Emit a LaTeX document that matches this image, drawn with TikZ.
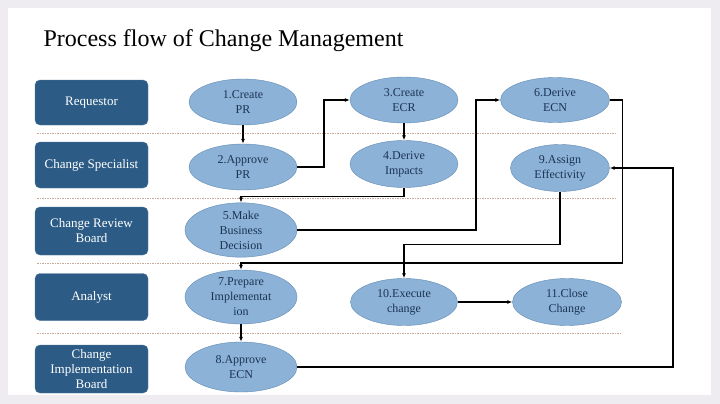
\documentclass[tikz,border=0pt]{standalone}
\usepackage{fontspec}
\setmainfont{Liberation Serif}
\usetikzlibrary{shapes.geometric,arrows.meta}
\definecolor{lanefill}{RGB}{44,92,134}
\definecolor{stepfill}{RGB}{140,178,215}
\definecolor{stepline}{RGB}{96,138,180}
\definecolor{steptext}{RGB}{28,52,84}
\definecolor{sepline}{RGB}{200,170,155}
\definecolor{framefill}{RGB}{238,236,241}
\begin{document}
\begin{tikzpicture}[x=1pt,y=-1pt,
  lane/.style={draw=lanefill!85!white, fill=lanefill, rounded corners=5pt, minimum width=113pt, text=white, align=center, inner sep=1pt, font=\fontsize{13}{15}\selectfont},
  stepnode/.style={ellipse, draw=stepline, fill=stepfill, text=steptext, align=center, inner sep=0pt, font=\fontsize{12}{15}\selectfont},
  flow/.style={-{Latex[length=5pt,width=4pt]}, line width=1.5pt},
  lanesep/.style={sepline, dash pattern=on 1.5pt off 1pt, line width=0.9pt}]
\fill[framefill] (0,0) rectangle (720,404);
\fill[white] (8,8) rectangle (711,395);
\node[anchor=base west, font=\fontsize{24}{28}\selectfont] (title) at (40,47) {Process flow of Change Management};
\node[lane, minimum height=45pt] (requestor) at (91.5,102.5) {Requestor};
\node[lane, minimum height=46pt] (specialist) at (91.5,165) {Change Specialist};
\node[lane, minimum height=48pt] (review) at (91.5,231) {Change Review\\Board};
\node[lane, minimum height=47pt] (analyst) at (91.5,297) {Analyst};
\node[lane, minimum height=48pt] (impl) at (91.5,369) {Change\\Implementation\\Board};
\draw[lanesep] (37,133) -- (615,133);
\draw[lanesep] (37,198) -- (615,198);
\draw[lanesep] (37,263) -- (615,263);
\draw[lanesep] (37,333) -- (622,333);
\node[stepnode, minimum width=108pt, minimum height=46pt] (s1) at (243,102) {1.Create\\PR};
\node[stepnode, minimum width=108pt, minimum height=46pt] (s2) at (243,167) {2.Approve\\PR};
\node[stepnode, minimum width=108pt, minimum height=46pt] (s3) at (404,100) {3.Create\\ECR};
\node[stepnode, minimum width=108pt, minimum height=47pt] (s4) at (404,164) {4.Derive\\Impacts};
\node[stepnode, minimum width=112pt, minimum height=48pt] (s5) at (241,230) {5.Make\\Business\\Decision};
\node[stepnode, minimum width=109pt, minimum height=45pt] (s6) at (555,100) {6.Derive\\ECN};
\node[stepnode, minimum width=112pt, minimum height=54pt] (s7) at (241,297) {7.Prepare\\Implementat\\ion};
\node[stepnode, minimum width=112pt, minimum height=50pt] (s8) at (241,367) {8.Approve\\ECN};
\node[stepnode, minimum width=99pt, minimum height=47pt] (s9) at (560,168) {9.Assign\\Effectivity};
\node[stepnode, minimum width=107pt, minimum height=47pt] (s10) at (404,302) {10.Execute\\change};
\node[stepnode, minimum width=109pt, minimum height=47pt] (s11) at (567,302) {11.Close\\Change};
\draw[flow] (s1) -- (s2);
\draw[flow] (s2.east) -- ++(27,0) |- (s3.west);
\draw[flow] (s3) -- (s4);
\draw[flow] (s4.south) -- ++(0,9) -| (s5.north);
\draw[flow] (s5.east) -- ++(179,0) |- (s6.west);
\draw[flow] (s6.east) -- ++(13,0) -- ++(0,163) -| (s7.north);
\draw[flow] (s7) -- (s8);
\draw[flow] (s8.east) -- ++(376,0) |- (s9.east);
\draw[flow] (s9.south) -- ++(0,53) -| (s10.north);
\draw[flow] (s10) -- (s11);
\end{tikzpicture}
\end{document}
